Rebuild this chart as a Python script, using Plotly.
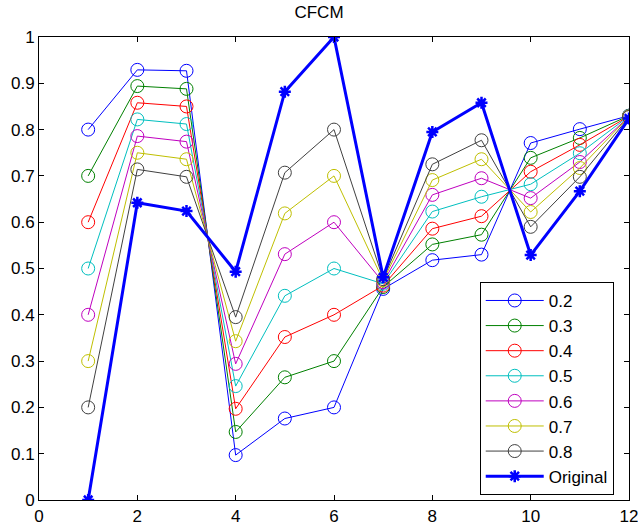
import plotly.graph_objects as go

x = list(range(1, 13))
names = ["0.2", "0.3", "0.4", "0.5", "0.6", "0.7", "0.8"]
s02 = [0.800, 0.929, 0.927, 0.097, 0.176, 0.200, 0.456, 0.518, 0.530, 0.771, 0.801, 0.830]
s03 = [0.700, 0.894, 0.888, 0.147, 0.265, 0.300, 0.460, 0.552, 0.573, 0.739, 0.782, 0.830]
s04 = [0.600, 0.858, 0.850, 0.197, 0.352, 0.400, 0.463, 0.586, 0.613, 0.709, 0.767, 0.829]
s05 = [0.500, 0.822, 0.812, 0.246, 0.441, 0.500, 0.467, 0.623, 0.655, 0.682, 0.749, 0.829]
s06 = [0.400, 0.786, 0.774, 0.294, 0.531, 0.600, 0.470, 0.659, 0.695, 0.652, 0.730, 0.828]
s07 = [0.300, 0.750, 0.736, 0.343, 0.619, 0.700, 0.474, 0.691, 0.736, 0.622, 0.717, 0.828]
s08 = [0.200, 0.714, 0.698, 0.395, 0.707, 0.800, 0.477, 0.725, 0.777, 0.590, 0.698, 0.827]
original = [0.000, 0.642, 0.624, 0.493, 0.882, 1.000, 0.481, 0.795, 0.858, 0.529, 0.667, 0.824]

series = [s02, s03, s04, s05, s06, s07, s08]
colors = ["#0000FF", "#008000", "#FF0000", "#00BFBF", "#BF00BF", "#BFBF00", "#404040"]

fig = go.Figure()
for i, (nm, ys, c) in enumerate(zip(names, series, colors)):
    fig.add_trace(go.Scatter(
        x=x, y=ys, name=nm, mode="lines+markers", legendgroup=nm,
        line=dict(color=c, width=1),
        marker=dict(symbol="circle-open", size=13, color=c, line=dict(width=1, color=c)),
    ))
fig.add_trace(go.Scatter(
    x=x, y=original, name="Original", mode="lines+markers", legendgroup="orig",
    line=dict(color="#0000FF", width=3),
    marker=dict(symbol="asterisk-open", size=10, color="#0000FF", line=dict(width=2.5, color="#0000FF")),
))

axis_common = dict(
    showline=True, linecolor="black", linewidth=1, mirror="ticks",
    ticks="inside", ticklen=5, tickcolor="black", showgrid=False, zeroline=False,
    ticklabeloverflow="allow",
    tickfont=dict(family="Liberation Sans, Arial", size=17, color="black"),
)
fig.update_layout(
    width=638, height=527,
    margin=dict(l=39, r=9, t=37, b=27),
    paper_bgcolor="white", plot_bgcolor="white",
    title=dict(text="CFCM", x=0.5, xanchor="center", y=0.977, yanchor="middle",
               font=dict(family="Liberation Sans, Arial", size=17, color="black")),
    xaxis=dict(range=[0, 12], tickvals=list(range(0, 13, 2)), automargin=False,
               ticklabelstandoff=1, **axis_common),
    yaxis=dict(range=[0, 1], tickvals=[i / 10 for i in range(11)],
               ticktext=["0", "0.1", "0.2", "0.3", "0.4", "0.5", "0.6", "0.7", "0.8", "0.9", "1"],
               automargin=False, **axis_common),
    legend=dict(x=0.747, y=0.471, xanchor="left", yanchor="top",
                bordercolor="black", borderwidth=1, bgcolor="white",
                font=dict(family="Liberation Sans, Arial", size=17, color="black"),
                tracegroupgap=0, itemwidth=58),
    showlegend=True,
)
fig.write_html("out.html", config={"displayModeBar": False},
               post_script="document.body.style.margin='0';document.body.style.padding='0';")
